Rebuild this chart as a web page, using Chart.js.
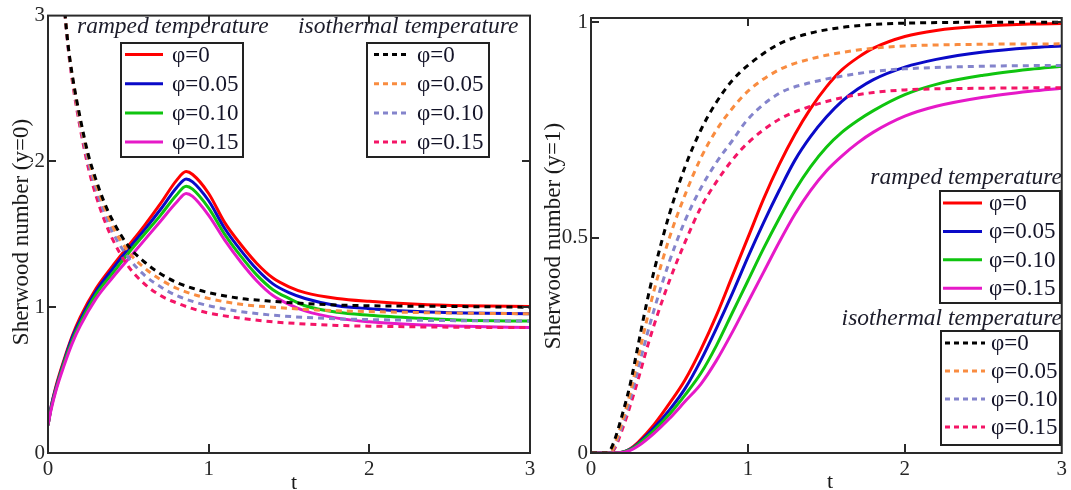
<!DOCTYPE html>
<html><head><meta charset="utf-8">
<script src="https://cdn.jsdelivr.net/npm/chart.js@4.4.1/dist/chart.umd.min.js"></script>
<style>
html,body{margin:0;padding:0;background:#fff;}
#wrap{position:relative;width:1071px;height:490px;overflow:hidden;}
#c1{position:absolute;left:0;top:0;}
#c2{position:absolute;left:540px;top:0;}
</style></head><body>
<div id="wrap"><canvas id="c1" width="540" height="490"></canvas><canvas id="c2" width="531" height="490"></canvas></div>
<script>
// ---------- data ----------
const phiLabels = ['φ=0', 'φ=0.05', 'φ=0.10', 'φ=0.15'];
const xTickValues = [0, 1, 2, 3];
const yTickValuesLeft = [0, 1, 2, 3];
const yTickValuesRight = [0, 0.5, 1];
const legendTitleRamped = 'ramped temperature';
const legendTitleIso = 'isothermal temperature';
const xTitle = 't';
const yTitleLeft = 'Sherwood number (y=0)';
const yTitleRight = 'Sherwood number (y=1)';

// Left panel (y=0): ramped temperature
const tRampedL = [0, 0.02, 0.05, 0.1, 0.15, 0.2, 0.3, 0.4, 0.5, 0.6, 0.7, 0.8, 0.86, 0.9, 1.0, 1.1, 1.2, 1.3, 1.4, 1.5, 1.6, 1.8, 2.0, 2.3, 2.6, 3.0];
const shRampedL0   = [0.19, 0.32, 0.46, 0.64, 0.80, 0.93, 1.13, 1.28, 1.42, 1.56, 1.71, 1.87, 1.93, 1.91, 1.78, 1.58, 1.43, 1.30, 1.20, 1.14, 1.10, 1.06, 1.04, 1.02, 1.01, 1.005];
const shRampedL05  = [0.19, 0.32, 0.45, 0.63, 0.79, 0.91, 1.11, 1.26, 1.40, 1.53, 1.67, 1.82, 1.88, 1.86, 1.73, 1.54, 1.39, 1.26, 1.16, 1.10, 1.06, 1.01, 0.99, 0.97, 0.96, 0.955];
const shRampedL10  = [0.19, 0.31, 0.44, 0.62, 0.77, 0.89, 1.09, 1.23, 1.37, 1.50, 1.63, 1.77, 1.83, 1.81, 1.68, 1.50, 1.35, 1.22, 1.12, 1.06, 1.01, 0.965, 0.945, 0.925, 0.91, 0.905];
const shRampedL15  = [0.19, 0.30, 0.43, 0.60, 0.75, 0.87, 1.06, 1.20, 1.33, 1.46, 1.59, 1.72, 1.78, 1.76, 1.63, 1.46, 1.31, 1.18, 1.08, 1.02, 0.975, 0.925, 0.90, 0.88, 0.87, 0.86];
// Left panel (y=0): isothermal temperature
const tIsoL = [0.085, 0.1, 0.125, 0.15, 0.2, 0.25, 0.3, 0.35, 0.4, 0.5, 0.6, 0.7, 0.8, 0.9, 1.0, 1.2, 1.4, 1.6, 1.8, 2.0, 2.5, 3.0];
const shIsoL0  = [3.4, 3.1, 2.8, 2.6, 2.3, 2.05, 1.87, 1.72, 1.60, 1.42, 1.31, 1.23, 1.17, 1.13, 1.10, 1.06, 1.04, 1.025, 1.015, 1.01, 1.005, 1.0];
const shIsoL05 = [3.4, 3.1, 2.8, 2.59, 2.28, 2.03, 1.84, 1.69, 1.56, 1.38, 1.27, 1.19, 1.13, 1.09, 1.06, 1.02, 1.00, 0.985, 0.975, 0.97, 0.96, 0.955];
const shIsoL10 = [3.4, 3.1, 2.79, 2.58, 2.26, 2.0, 1.81, 1.65, 1.52, 1.34, 1.22, 1.14, 1.08, 1.04, 1.01, 0.97, 0.945, 0.93, 0.92, 0.915, 0.908, 0.905];
const shIsoL15 = [3.4, 3.1, 2.78, 2.56, 2.23, 1.96, 1.76, 1.60, 1.47, 1.28, 1.16, 1.08, 1.03, 0.99, 0.96, 0.925, 0.90, 0.885, 0.875, 0.87, 0.863, 0.86];

// Right panel (y=1): ramped temperature
const tRampedR = [0, 0.15, 0.2, 0.25, 0.3, 0.4, 0.5, 0.6, 0.7, 0.8, 0.9, 1.0, 1.1, 1.2, 1.3, 1.4, 1.5, 1.6, 1.7, 1.8, 2.0, 2.2, 2.5, 2.8, 3.0];
const shRampedR0  = [0, 0, 0.002, 0.01, 0.025, 0.065, 0.115, 0.17, 0.24, 0.32, 0.41, 0.50, 0.59, 0.67, 0.74, 0.80, 0.85, 0.89, 0.918, 0.94, 0.967, 0.981, 0.991, 0.996, 0.997];
const shRampedR05 = [0, 0, 0.002, 0.009, 0.022, 0.058, 0.10, 0.15, 0.215, 0.29, 0.37, 0.455, 0.535, 0.61, 0.68, 0.735, 0.78, 0.817, 0.845, 0.867, 0.896, 0.914, 0.931, 0.941, 0.945];
const shRampedR10 = [0, 0, 0.002, 0.008, 0.02, 0.052, 0.09, 0.135, 0.185, 0.25, 0.325, 0.40, 0.475, 0.545, 0.61, 0.665, 0.71, 0.745, 0.772, 0.795, 0.832, 0.856, 0.877, 0.891, 0.898];
const shRampedR15 = [0, 0, 0.001, 0.006, 0.016, 0.045, 0.08, 0.12, 0.16, 0.215, 0.28, 0.35, 0.42, 0.49, 0.555, 0.61, 0.655, 0.69, 0.72, 0.745, 0.782, 0.805, 0.826, 0.84, 0.847];
// Right panel (y=1): isothermal temperature
const tIsoR = [0, 0.1, 0.12, 0.15, 0.2, 0.25, 0.3, 0.35, 0.4, 0.5, 0.6, 0.7, 0.8, 0.9, 1.0, 1.2, 1.4, 1.6, 1.8, 2.0, 2.5, 3.0];
const shIsoR0  = [0, 0, 0.005, 0.03, 0.09, 0.16, 0.25, 0.34, 0.42, 0.555, 0.665, 0.75, 0.815, 0.865, 0.90, 0.95, 0.975, 0.988, 0.995, 0.998, 1.0, 1.0];
const shIsoR05 = [0, 0, 0, 0.02, 0.075, 0.14, 0.22, 0.30, 0.375, 0.50, 0.60, 0.685, 0.75, 0.80, 0.84, 0.89, 0.915, 0.93, 0.94, 0.945, 0.949, 0.95];
const shIsoR10 = [0, 0, 0, 0.015, 0.065, 0.125, 0.195, 0.265, 0.33, 0.445, 0.54, 0.615, 0.675, 0.725, 0.775, 0.835, 0.86, 0.875, 0.886, 0.892, 0.898, 0.90];
const shIsoR15 = [0, 0, 0, 0.01, 0.055, 0.11, 0.17, 0.235, 0.295, 0.40, 0.49, 0.57, 0.63, 0.68, 0.72, 0.775, 0.805, 0.825, 0.837, 0.843, 0.847, 0.848];

// ---------- styles ----------
const rampedColors = ['#ff0000', '#0a0ac8', '#0fc40f', '#e619c8'];
const isoColors = ['#000000', '#f98c40', '#8484cc', '#f41566'];
const SERIF = '"Liberation Serif", "Times New Roman", serif';
const TEXT = '#1a1a1a';

function mk(t, v, label, color, dash, group, order) {
  return {
    label, group, order,
    data: t.map((x, i) => ({x, y: v[i]})),
    borderColor: color, backgroundColor: color,
    borderWidth: 3, borderDash: dash,
    pointRadius: 0, fill: false, cubicInterpolationMode: 'monotone'
  };
}
function buildSets(tR, rampedVals, tI, isoVals) {
  const sets = [];
  rampedVals.forEach((v, i) => sets.push(mk(tR, v, phiLabels[i], rampedColors[i], [], 'ramped', 4 - i)));
  isoVals.forEach((v, i) => sets.push(mk(tI, v, phiLabels[i], isoColors[i], [6, 5], 'iso', 0)));
  return sets;
}

function line(ctx, x1, y1, x2, y2) { ctx.beginPath(); ctx.moveTo(x1, y1); ctx.lineTo(x2, y2); ctx.stroke(); }

const decor = {
  id: 'decor',
  afterDraw(chart, args, o) {
    const ctx = chart.ctx, a = chart.chartArea, xs = chart.scales.x, ys = chart.scales.y;
    ctx.save();
    ctx.strokeStyle = '#2a2a2a'; ctx.lineWidth = 2; ctx.setLineDash([]);
    o.xInner.forEach(v => {
      const px = Math.round(xs.getPixelForValue(v));
      line(ctx, px, a.bottom, px, a.bottom - 9);
      line(ctx, px, a.top, px, a.top + 8);
    });
    o.yInner.forEach(v => {
      const py = Math.round(ys.getPixelForValue(v));
      line(ctx, a.left, py, a.left + 8, py);
      line(ctx, a.right, py, a.right - 8, py);
    });
    ctx.strokeRect(a.left, a.top, a.right - a.left, a.bottom - a.top);
    // axis titles
    ctx.fillStyle = TEXT; ctx.textBaseline = 'middle'; ctx.textAlign = 'center';
    ctx.font = '22px ' + SERIF;
    ctx.fillText(o.xTitle, o.xTitlePos[0], o.xTitlePos[1]);
    ctx.save();
    ctx.translate(o.yTitlePos[0], o.yTitlePos[1]); ctx.rotate(-Math.PI / 2);
    ctx.font = '23px ' + SERIF;
    ctx.fillText(o.yTitle, 0, 0);
    ctx.restore();
    // legends
    o.legends.forEach(lg => {
      ctx.font = 'italic 23.5px ' + SERIF; ctx.fillStyle = '#1c1c2a';
      ctx.textAlign = lg.titleAlign; ctx.textBaseline = 'middle';
      ctx.fillText(lg.title, lg.titleX, lg.titleY);
      ctx.fillStyle = '#fff'; ctx.fillRect(lg.x, lg.y, lg.w, lg.h);
      ctx.strokeStyle = '#222'; ctx.lineWidth = 2; ctx.strokeRect(lg.x, lg.y, lg.w, lg.h);
      const items = chart.data.datasets.filter(d => d.group === lg.group);
      items.forEach((ds, i) => {
        const yy = lg.y + lg.row0 + i * lg.rowH;
        ctx.strokeStyle = ds.borderColor; ctx.lineWidth = 3;
        ctx.setLineDash(ds.borderDash.length ? [5, 4] : []);
        line(ctx, lg.x + lg.s0, yy, lg.x + lg.s1, yy);
        ctx.setLineDash([]);
        ctx.font = '23px ' + SERIF; ctx.fillStyle = '#141428'; ctx.textAlign = 'left';
        ctx.fillText(ds.label, lg.x + lg.tx, yy + 1);
      });
    });
    ctx.restore();
  }
};

function axis(min, max, ticksArr, fixed, isX) {
  return {
    type: 'linear', min, max,
    afterBuildTicks: s => { s.ticks = ticksArr.map(v => ({value: v})); },
    afterFit: s => { if (isX) s.height = fixed; else s.width = fixed; },
    grid: {display: false, drawTicks: false},
    border: {display: false},
    ticks: {
      font: {family: SERIF, size: 21}, color: '#262626', padding: isX ? 4 : 3,
      maxRotation: 0, autoSkip: false,
      callback: v => String(v)
    }
  };
}

function makeChart(id, sets, opts) {
  return new Chart(document.getElementById(id), {
    type: 'line',
    data: {datasets: sets},
    plugins: [decor],
    options: {
      responsive: false, animation: false, parsing: true,
      layout: {padding: opts.padding},
      scales: {
        x: axis(0, 3, xTickValues, 37, true),
        y: axis(0, opts.yMax, opts.yTicks, opts.yWidth, false)
      },
      plugins: {legend: {display: false}, tooltip: {enabled: false}, decor: opts.decor}
    }
  });
}

makeChart('c1',
  buildSets(tRampedL, [shRampedL0, shRampedL05, shRampedL10, shRampedL15], tIsoL, [shIsoL0, shIsoL05, shIsoL10, shIsoL15]),
  {
    padding: {left: 0, right: 10, top: 12, bottom: 0}, yMax: 3, yTicks: yTickValuesLeft, yWidth: 48,
    decor: {
      xInner: [1, 2], yInner: [1, 2],
      xTitle: xTitle, xTitlePos: [294, 483], yTitle: yTitleLeft, yTitlePos: [22, 232],
      legends: [
        {group: 'ramped', title: legendTitleRamped, titleAlign: 'left', titleX: 77, titleY: 27,
         x: 121, y: 43, w: 122, h: 114, row0: 11.5, rowH: 29.2, s0: 4, s1: 42, tx: 51},
        {group: 'iso', title: legendTitleIso, titleAlign: 'left', titleX: 298, titleY: 27,
         x: 367, y: 43, w: 122, h: 114, row0: 11.5, rowH: 29.2, s0: 7, s1: 41, tx: 50}
      ]
    }
  });

makeChart('c2',
  buildSets(tRampedR, [shRampedR0, shRampedR05, shRampedR10, shRampedR15], tIsoR, [shIsoR0, shIsoR05, shIsoR10, shIsoR15]),
  {
    padding: {left: 0, right: 9, top: 18, bottom: 0}, yMax: 1.01, yTicks: yTickValuesRight, yWidth: 51,
    decor: {
      xInner: [1, 2], yInner: [0.5, 1],
      xTitle: xTitle, xTitlePos: [290, 482], yTitle: yTitleRight, yTitlePos: [14, 236],
      legends: [
        {group: 'ramped', title: legendTitleRamped, titleAlign: 'right', titleX: 522, titleY: 178,
         x: 400, y: 191, w: 120, h: 112, row0: 12, rowH: 28.4, s0: 3, s1: 42, tx: 49},
        {group: 'iso', title: legendTitleIso, titleAlign: 'right', titleX: 522, titleY: 319,
         x: 401, y: 331, w: 119, h: 114, row0: 12, rowH: 28, s0: 4, s1: 44, tx: 50}
      ]
    }
  });
</script>
</body></html>
